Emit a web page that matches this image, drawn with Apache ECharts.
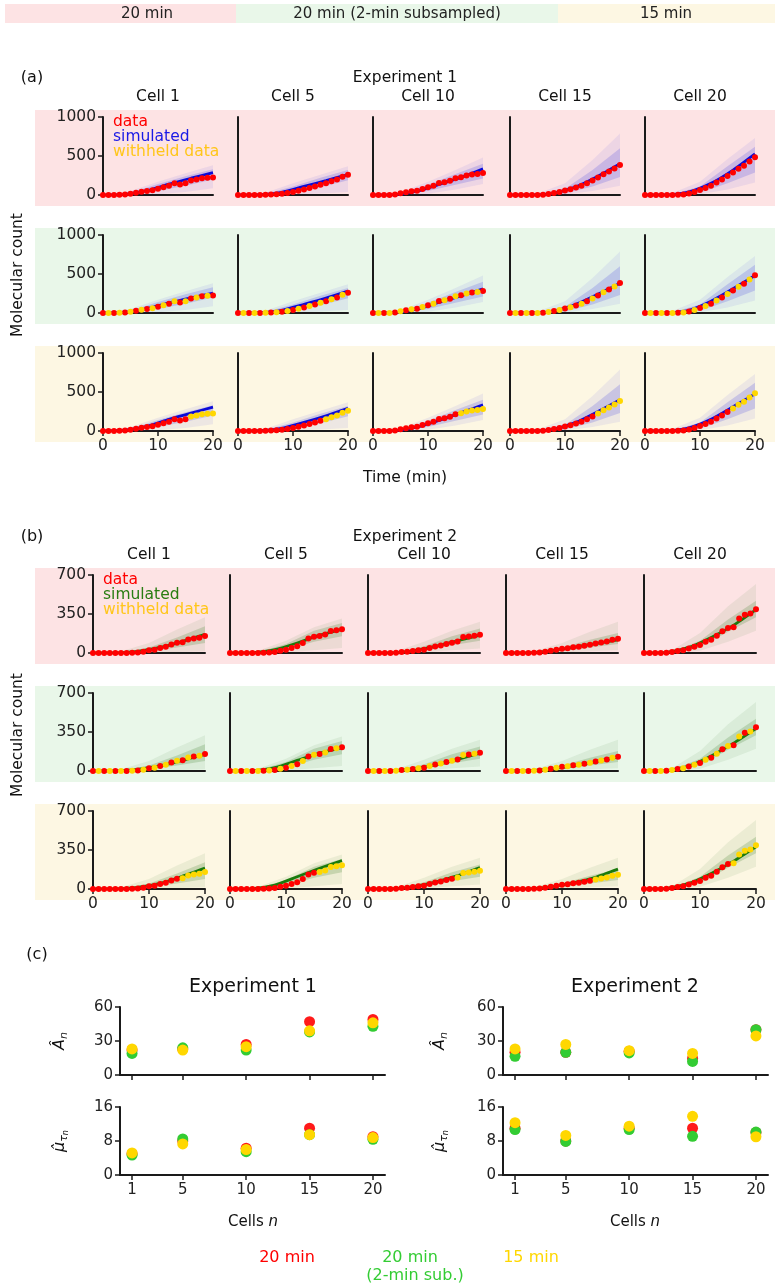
<!DOCTYPE html>
<html><head><meta charset="utf-8">
<script src="https://cdn.jsdelivr.net/npm/echarts@6/dist/echarts.min.js"></script>
<style>html,body{margin:0;padding:0;background:#fff}#c{width:775px;height:1287px}</style>
</head><body><div id="c"></div>
<script>
// ---------- data ----------
const timeMin = [0,1,2,3,4,5,6,7,8,9,10,11,12,13,14,15,16,17,18,19,20];
const simTimes = [0,5,10,15,20];
const meanTimes = [0,4,8,12,16,20];
const cellNames = ['Cell 1','Cell 5','Cell 10','Cell 15','Cell 20'];
const rowNames = ['20 min','20 min (2-min subsampled)','15 min'];
const exp1YTicks = [0,500,1000];
const exp2YTicks = [0,350,700];

// Experiment 1 measured trajectories (cells 1,5,10,15,20)
const exp1Data = [
  [0,0,0,2,6,15,28,42,50,62,80,100,120,150,135,150,185,200,215,220,225],
  [0,0,0,0,0,2,5,10,15,25,40,55,70,90,110,130,150,175,200,235,260],
  [0,0,0,0,5,21,34,47,56,77,99,120,154,163,184,214,227,249,262,270,283],
  [0,0,0,0,0,0,3,12,25,40,58,75,95,120,150,185,225,265,300,340,386],
  [0,0,0,0,0,0,2,8,20,40,65,90,120,160,200,245,290,335,375,430,485]
];
// Experiment 1 simulated envelopes (at simTimes)
const exp1OuterLo = [[0,0,10,40,85],[0,0,5,20,40],[0,0,15,70,140],[0,0,5,50,120],[0,0,10,70,160]];
const exp1InnerLo = [[0,5,50,120,200],[0,0,30,100,190],[0,2,50,130,210],[0,0,20,110,230],[0,0,30,150,290]];
const exp1InnerHi = [[0,30,140,240,330],[0,15,110,220,320],[0,20,130,270,400],[0,5,80,320,600],[0,10,110,370,620]];
const exp1OuterHi = [[0,50,170,280,380],[0,30,150,260,370],[0,35,170,320,480],[0,20,150,450,790],[0,25,170,460,730]];
// Experiment 1 simulated means (at meanTimes), one array per data row
const exp1MeanRow1 = [[0,8,55,140,215,287],[0,3,35,110,185,262],[0,5,50,135,225,335],[0,0,25,105,240,400],[0,0,40,150,320,528]];
const exp1MeanRow2 = [[0,8,55,130,195,255],[0,3,35,110,190,280],[0,5,50,135,220,310],[0,0,25,110,240,380],[0,0,35,150,310,480]];
const exp1MeanRow3 = [[0,10,60,150,230,305],[0,3,35,110,195,290],[0,5,50,135,235,335],[0,0,25,110,250,400],[0,0,40,150,310,476]];

// Experiment 2 measured trajectories
const exp2Data = [
  [0,0,0,0,0,0,0,2,5,12,24,30,45,55,76,91,97,122,131,137,152],
  [0,0,0,0,0,0,2,5,10,20,30,45,60,90,130,146,152,167,198,204,213],
  [0,0,0,0,0,3,8,12,18,24,30,45,58,68,80,92,103,143,149,155,164],
  [0,0,0,0,0,2,5,12,20,30,38,43,52,55,64,73,85,94,103,119,128],
  [0,0,0,0,2,8,18,25,40,55,72,100,120,155,195,225,232,310,343,355,392]
];
const exp2OuterLo = [[0,0,5,10,15],[0,0,5,25,45],[0,0,5,25,40],[0,0,5,15,25],[0,0,20,100,200]];
const exp2InnerLo = [[0,0,15,50,90],[0,2,30,100,150],[0,0,20,70,110],[0,0,15,50,80],[0,2,50,190,320]];
const exp2InnerHi = [[0,5,50,140,240],[0,10,80,200,270],[0,5,60,150,220],[0,5,50,120,180],[0,10,110,300,470]];
const exp2OuterHi = [[0,15,90,210,320],[0,20,110,230,310],[0,15,100,200,280],[0,15,90,190,280],[0,25,180,420,620]];
const exp2MeanRow1 = [[0,2,15,50,105,167],[0,3,30,90,160,212],[0,2,20,60,110,160],[0,2,20,50,85,118],[0,5,50,140,250,390]];
const exp2MeanRow2 = [[0,2,15,45,95,150],[0,3,30,95,160,210],[0,2,18,55,105,160],[0,2,18,48,85,125],[0,4,45,135,250,380]];
const exp2MeanRow3 = [[0,2,15,50,115,187],[0,3,35,110,185,255],[0,2,20,62,120,193],[0,2,20,55,105,178],[0,5,50,140,250,378]];

// (c) inferred parameters
const cellsN = [1,5,10,15,20];
const exp1A_20 = [22,23,27,47,49];
const exp1A_sub = [19,24,22,38,43];
const exp1A_15 = [23,22,25,39,46];
const exp1Mu_20 = [5.0,8.0,6.3,11.0,9.0];
const exp1Mu_sub = [4.7,8.5,5.5,9.5,8.4];
const exp1Mu_15 = [5.2,7.3,6.0,9.5,8.8];
const exp2A_20 = [20,20,21,14.7,40];
const exp2A_sub = [16.5,20,19.5,12,40];
const exp2A_15 = [23,27,21.5,19,34.5];
const exp2Mu_20 = [11,8,11,11,10];
const exp2Mu_sub = [10.7,7.9,10.7,9.1,10.1];
const exp2Mu_15 = [12.3,9.3,11.5,13.8,9.0];

// ---------- build ----------
const FONT = 'DejaVu Sans';
const AX = '#1a1a1a';
const bgCols = ['#fde3e4','#e9f7e9','#fdf7e3'];
const grids = [], xAxes = [], yAxes = [], series = [], gfx = [];
const plainNum = function(v){ return String(v); };

function txt(x, y, text, size, color, extra) {
  return {type:'text', x:x, y:y, z:10, style:Object.assign({text:text, fontSize:size, fontFamily:FONT, fill:color||'#111',
    textAlign:'center', textVerticalAlign:'middle', align:'center', verticalAlign:'middle'}, extra||{})};
}

// banner
gfx.push({type:'rect', z:-5, shape:{x:5,y:4,width:231,height:19}, style:{fill:bgCols[0]}});
gfx.push({type:'rect', z:-5, shape:{x:236,y:4,width:322,height:19}, style:{fill:bgCols[1]}});
gfx.push({type:'rect', z:-5, shape:{x:558,y:4,width:217,height:19}, style:{fill:bgCols[2]}});
gfx.push(txt(147,14,rowNames[0],15,'#222'));
gfx.push(txt(397,14,rowNames[1],15,'#222'));
gfx.push(txt(666,14,rowNames[2],15,'#222'));

const exps = [
  {label:'(a)', title:'Experiment 1', labY:78, titleY:78, cellY:97, cols:[103,238,373,510,645], w:110, tops:[117,235,353], h:78,
   bgTops:[110,228,346], ymax:1000, ticks:exp1YTicks, data:exp1Data, oLo:exp1OuterLo, iLo:exp1InnerLo, iHi:exp1InnerHi, oHi:exp1OuterHi,
   means:[exp1MeanRow1,exp1MeanRow2,exp1MeanRow3], mainCol:'#0a0ad8', outerCol:'rgba(80,80,230,0.09)', innerCol:'rgba(60,60,225,0.2)',
   legCol:'#1a1ae6', ylabY:275},
  {label:'(b)', title:'Experiment 2', labY:537, titleY:537, cellY:555, cols:[93,230,368,506,644], w:112, tops:[575,693,811], h:78,
   bgTops:[568,686,804], ymax:700, ticks:exp2YTicks, data:exp2Data, oLo:exp2OuterLo, iLo:exp2InnerLo, iHi:exp2InnerHi, oHi:exp2OuterHi,
   means:[exp2MeanRow1,exp2MeanRow2,exp2MeanRow3], mainCol:'#1a7a0c', outerCol:'rgba(70,130,50,0.09)', innerCol:'rgba(50,120,30,0.2)',
   legCol:'#2a7d12', ylabY:735}
];

function bandSeries(g, lo, hi, color) {
  return {type:'custom', xAxisIndex:g, yAxisIndex:g, silent:true, z:1, clip:false, data:[[0,0]],
    renderItem:function(params, api){
      const pts = [];
      for (let i=0;i<simTimes.length;i++) pts.push(api.coord([simTimes[i], hi[i]]));
      for (let i=simTimes.length-1;i>=0;i--) pts.push(api.coord([simTimes[i], lo[i]]));
      return {type:'polygon', shape:{points:pts}, style:{fill:color}};
    }};
}

exps.forEach(function(E){
  gfx.push(txt(32, E.labY, E.label, 16, '#111'));
  gfx.push(txt(405, E.titleY, E.title, 15.5, '#111'));
  const yl = txt(18, E.ylabY, 'Molecular count', 15.5, '#111');
  yl.rotation = Math.PI/2;
  gfx.push(yl);
  for (let r=0;r<3;r++) {
    gfx.push({type:'rect', z:-5, shape:{x:35,y:E.bgTops[r],width:740,height:96}, style:{fill:bgCols[r]}});
  }
  for (let c=0;c<5;c++) {
    gfx.push(txt(E.cols[c]+E.w/2, E.cellY, cellNames[c], 15.5, '#111'));
  }
  for (let r=0;r<3;r++) {
    for (let c=0;c<5;c++) {
      const g = grids.length;
      grids.push({left:E.cols[c], top:E.tops[r], width:E.w, height:E.h});
      xAxes.push({gridIndex:g, type:'value', min:0, max:20, interval:10,
        axisLine:{show:true, onZero:false, lineStyle:{color:AX, width:2}},
        axisTick:{show:r===2, length:5, lineStyle:{color:AX, width:1.5}},
        axisLabel:{show:r===2, fontSize:15.5, color:'#222', fontFamily:FONT, margin:7, formatter:plainNum},
        splitLine:{show:false}});
      yAxes.push({gridIndex:g, type:'value', min:0, max:E.ymax, interval:E.ticks[1],
        axisLine:{show:true, onZero:false, lineStyle:{color:AX, width:2}},
        axisTick:{show:c===0, length:5, lineStyle:{color:AX, width:1.5}},
        axisLabel:{show:c===0, fontSize:15.5, color:'#222', fontFamily:FONT, margin:7, formatter:plainNum},
        splitLine:{show:false}});
      series.push(bandSeries(g, E.oLo[c], E.oHi[c], E.outerCol));
      series.push(bandSeries(g, E.iLo[c], E.iHi[c], E.innerCol));
      const mean = E.means[r][c];
      series.push({type:'line', xAxisIndex:g, yAxisIndex:g, silent:true, z:3, symbol:'none', smooth:0.2,
        lineStyle:{color:E.mainCol, width:2.8}, data:meanTimes.map(function(t,i){return [t, mean[i]];})});
      const d = E.data[c];
      const red = [], yel = [];
      timeMin.forEach(function(t,i){
        let withheld = false;
        if (r===1) withheld = (t % 2 === 1);
        if (r===2) withheld = (t > 15);
        (withheld ? yel : red).push([t, d[i]]);
      });
      series.push({type:'scatter', xAxisIndex:g, yAxisIndex:g, silent:true, z:4, symbolSize:6,
        itemStyle:{color:'#ff0000', opacity:1}, data:red});
      if (yel.length) series.push({type:'scatter', xAxisIndex:g, yAxisIndex:g, silent:true, z:5, symbolSize:6,
        itemStyle:{color:'#ffd700', opacity:1}, data:yel});
      if (r===0 && c===0) {
        const lx = E.cols[0]+10, ly = E.tops[0];
        gfx.push(txt(lx, ly+5, 'data', 15.5, '#ff0000', {textAlign:'left', align:'left'}));
        gfx.push(txt(lx, ly+20, 'simulated', 15.5, E.legCol, {textAlign:'left', align:'left'}));
        gfx.push(txt(lx, ly+35, 'withheld data', 15.5, '#ffc61a', {textAlign:'left', align:'left'}));
      }
    }
  }
});
gfx.push(txt(405, 478, 'Time (min)', 15.5, '#111'));

// ---------- (c) ----------
gfx.push(txt(37, 955, '(c)', 16, '#111'));
const cPanels = [
  {left:120, title:'Experiment 1', tx:253, A:[exp1A_20,exp1A_sub,exp1A_15], M:[exp1Mu_20,exp1Mu_sub,exp1Mu_15], labX:60},
  {left:503, title:'Experiment 2', tx:635, A:[exp2A_20,exp2A_sub,exp2A_15], M:[exp2Mu_20,exp2Mu_sub,exp2Mu_15], labX:440}
];
const cCols = ['#ff1a1a','#33cc33','#ffd700'];
cPanels.forEach(function(P){
  gfx.push(txt(P.tx, 987, P.title, 19, '#111'));
  [{top:1007, max:60, iv:30, vals:P.A}, {top:1107, max:16, iv:8, vals:P.M}].forEach(function(S, si){
    const g = grids.length;
    grids.push({left:P.left, top:S.top, width:265, height:68});
    xAxes.push({gridIndex:g, type:'value', min:0.05, max:20.95,
      axisLine:{show:true, onZero:false, lineStyle:{color:AX, width:2}},
      axisTick:{show:true, length:5, customValues:cellsN, lineStyle:{color:AX, width:1.5}},
      axisLabel:{show:si===1, customValues:cellsN, fontSize:15, color:'#222', fontFamily:FONT, margin:8},
      splitLine:{show:false}});
    yAxes.push({gridIndex:g, type:'value', min:0, max:S.max, interval:S.iv,
      axisLine:{show:true, onZero:false, lineStyle:{color:AX, width:2}},
      axisTick:{show:true, length:5, lineStyle:{color:AX, width:1.5}},
      axisLabel:{show:true, fontSize:15, color:'#222', fontFamily:FONT, margin:7},
      splitLine:{show:false}});
    S.vals.forEach(function(arr, k){
      series.push({type:'scatter', xAxisIndex:g, yAxisIndex:g, silent:true, z:3+k, symbolSize:11,
        itemStyle:{color:cCols[k], opacity:1}, data:cellsN.map(function(n,i){return [n, arr[i]];})});
    });
  });
  gfx.push({type:'text', x:P.labX, y:1041, z:10, rotation:Math.PI/2,
    style:{text:'{a|Â}{b|n}', fontFamily:FONT, fill:'#111', textAlign:'center', textVerticalAlign:'middle', align:'center', verticalAlign:'middle',
      rich:{a:{fontSize:16, fontStyle:'italic', fontFamily:FONT}, b:{fontSize:11, fontStyle:'italic', fontFamily:FONT, padding:[8,0,0,0]}}}});
  gfx.push({type:'text', x:P.labX, y:1141, z:10, rotation:Math.PI/2,
    style:{text:'{a|μ̂}{b|τ}{c|n}', fontFamily:FONT, fill:'#111', textAlign:'center', textVerticalAlign:'middle', align:'center', verticalAlign:'middle',
      rich:{a:{fontSize:16, fontStyle:'italic', fontFamily:FONT}, b:{fontSize:11, fontStyle:'italic', fontFamily:FONT, padding:[8,0,0,0]}, c:{fontSize:8, fontStyle:'italic', fontFamily:FONT, padding:[12,0,0,0]}}}});
  gfx.push({type:'text', x:P.tx, y:1222, z:10,
    style:{text:'Cells {n|n}', fontSize:15, fontFamily:FONT, fill:'#111', textAlign:'center', textVerticalAlign:'middle', align:'center', verticalAlign:'middle',
      rich:{n:{fontSize:15, fontStyle:'italic', fontFamily:FONT}}}});
});

gfx.push(txt(287, 1258, '20 min', 16, '#ff0000'));
gfx.push(txt(410, 1258, '20 min', 16, '#33cc33'));
gfx.push(txt(415, 1276, '(2-min sub.)', 16, '#33cc33'));
gfx.push(txt(531, 1258, '15 min', 16, '#ffd700'));

const chart = echarts.init(document.getElementById('c'), null, {renderer:'canvas'});
chart.setOption({
  backgroundColor:'#ffffff',
  animation:false,
  textStyle:{fontFamily:FONT},
  grid:grids, xAxis:xAxes, yAxis:yAxes, series:series,
  graphic:{elements:gfx}
});
</script></body></html>
